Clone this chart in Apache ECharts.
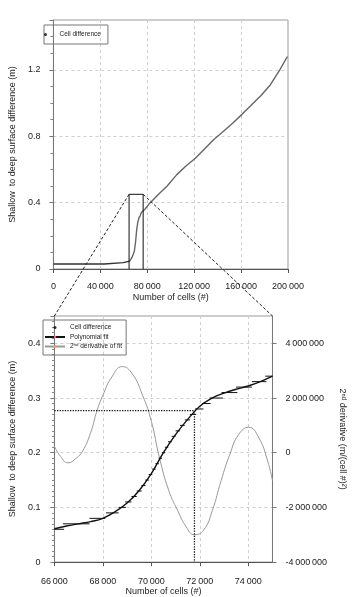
<!DOCTYPE html>
<html><head><meta charset="utf-8">
<script src="https://cdn.jsdelivr.net/npm/echarts@6/dist/echarts.min.js"></script>
<style>html,body{margin:0;padding:0;background:#fff}#c{width:355px;height:597px}</style>
</head><body><div id="c"></div>
<script>
// ---- Top chart data ----
const topStepX = [0, 43500, 43500, 59500, 59500, 65000];
const topStepY = [0.03, 0.03, 0.038, 0.038, 0.048, 0.048];
const topCurveX = [66000, 67000, 68000, 69000, 70000, 71000, 72000, 73000, 74000, 75000, 78000, 82000, 89000, 97000, 105000, 113000, 121000, 129000, 137000, 145000, 153000, 161000, 169000, 177000, 185000, 193000, 199500];
const topCurveY = [0.06, 0.07, 0.08, 0.107, 0.16, 0.236, 0.284, 0.309, 0.322, 0.34, 0.36, 0.395, 0.446, 0.50, 0.567, 0.62, 0.667, 0.725, 0.782, 0.83, 0.879, 0.933, 0.989, 1.045, 1.11, 1.20, 1.28];
const zoomRectX = [64500, 76500];
const zoomRectTop = 0.45;
const topXTicks = [0, 200000, 40000];      // min, max, interval
const topYTicks = [0, 1.5, 0.4];

// ---- Bottom chart data ----
const fitX = [66000, 66500, 67000, 67500, 68000, 68500, 69000, 69500, 70000, 70500, 71000, 71500, 72000, 72500, 73000, 73500, 74000, 74500, 75000];
const fitY = [0.061, 0.066, 0.070, 0.074, 0.080, 0.092, 0.108, 0.131, 0.162, 0.200, 0.233, 0.261, 0.285, 0.300, 0.309, 0.316, 0.322, 0.330, 0.340];
const derX = [66000, 66250, 66565, 66900, 67165, 67500, 67766, 68000, 68370, 68800, 69210, 69640, 70000, 70335, 70720, 71080, 71440, 71780, 72160, 72520, 72880, 73240, 73600, 74020, 74440, 74800, 75000];
const derY = [240000, -130000, -370000, -200000, 60000, 750000, 1560000, 2100000, 2770000, 3150000, 2890000, 2100000, 1150000, -180000, -1380000, -2100000, -2710000, -3000000, -2830000, -2110000, -1020000, -60000, 660000, 930000, 540000, -300000, -1020000];
const diffLevel = [0.06, 0.07, 0.08, 0.09, 0.10, 0.11, 0.12, 0.13, 0.14, 0.15, 0.16, 0.17, 0.18, 0.19, 0.20, 0.21, 0.22, 0.23, 0.24, 0.25, 0.26, 0.27, 0.28, 0.29, 0.30, 0.31, 0.32, 0.33, 0.34];
const diffStart = [66000, 66350, 67450, 68130, 68650, 68920, 69180, 69400, 69590, 69750, 69890, 70035, 70170, 70300, 70430, 70560, 70690, 70840, 71000, 71180, 71380, 71590, 71800, 72100, 72400, 72900, 73500, 74150, 74700];
const diffEnd   = [66400, 67450, 68100, 68650, 68950, 69180, 69400, 69600, 69760, 69900, 70040, 70180, 70310, 70440, 70570, 70700, 70840, 71000, 71180, 71380, 71600, 71850, 72150, 72450, 72950, 73550, 74150, 74750, 75000];
const markX = 71780, markY = 0.277;
const botXTicks = [66000, 75000, 2000];
const botYTicks = [0, 0.45, 0.1];
const botY2Ticks = [-4000000, 5000000, 2000000];

const FONT = "'Liberation Sans', Arial, sans-serif";
function fmt(v) {
  const s = Math.abs(v).toString().replace(/\B(?=(\d{3})+(?!\d))/g, '\u2009');
  return (v < 0 ? '-' : '') + s;
}
const lbl = {fontFamily: FONT, fontSize: 9, color: '#222'};
const nameStyle = {fontFamily: FONT, fontSize: 9, color: '#222'};
const splitDash = {show: true, lineStyle: {color: '#cfcfcf', type: [3, 3], width: 1}};

const stepTop = topStepX.map((x, i) => [x, topStepY[i]]);
const cellTop = [[topStepX[topStepX.length - 1], topStepY[topStepY.length - 1]]];
topCurveX.forEach((x, i) => cellTop.push([x, topCurveY[i]]));
const rect = [[zoomRectX[0], 0], [zoomRectX[0], zoomRectTop], [zoomRectX[1], zoomRectTop], [zoomRectX[1], 0]];
const dashes = [];
diffLevel.forEach((v, i) => { dashes.push([diffStart[i], v]); dashes.push([diffEnd[i], v]); dashes.push([diffEnd[i], '-']); });
const fit = fitX.map((x, i) => [x, fitY[i]]);
const der = derX.map((x, i) => [x, derY[i]]);
const marks = [[botXTicks[0], markY], [markX, markY], [markX, 0]];

const chart = echarts.init(document.getElementById('c'), null, {renderer: 'canvas'});
const legendText = {fontFamily: FONT, fontSize: 6.5, color: '#222'};
const CELL = 'Cell difference';
const DER = '2\u207F\u1D48 derivative of fit';
chart.setOption({
  animation: false,
  backgroundColor: '#fff',
  grid: [
    {left: 38, right: 67, top: 20, bottom: 328, show: true, borderColor: '#9a9a9a', borderWidth: 1},
    {left: 39, right: 66, top: 316, bottom: 31, show: true, borderColor: '#9a9a9a', borderWidth: 1}
  ],
  legend: [
    {left: 44, top: 25, orient: 'vertical', selectedMode: false,
     data: [{name: CELL, icon: 'circle'}],
     itemWidth: 18, itemHeight: 3, itemGap: 2, padding: [6, 7, 6, 0],
     borderColor: '#777', borderWidth: 1, textStyle: legendText},
    {left: 43, top: 320, orient: 'vertical', selectedMode: false,
     data: [{name: CELL, icon: 'circle'}, 'Polynomial fit', DER],
     itemWidth: 20, itemHeight: 3, itemGap: 2.5, padding: [4, 4, 5, 1],
     borderColor: '#777', borderWidth: 1, textStyle: legendText}
  ],
  xAxis: [
    {type: 'value', gridIndex: 0, min: topXTicks[0], max: topXTicks[1], interval: topXTicks[2],
     name: 'Number of cells (#)', nameLocation: 'middle', nameGap: 24, nameTextStyle: nameStyle,
     axisLine: {onZero: false, lineStyle: {color: '#555'}}, axisTick: {show: true, length: 4, lineStyle: {color: '#555'}},
     axisLabel: {...lbl, margin: 13, formatter: fmt}, splitLine: splitDash},
    {type: 'value', gridIndex: 1, min: botXTicks[0], max: botXTicks[1], interval: botXTicks[2],
     name: 'Number of cells (#)', nameLocation: 'middle', nameGap: 23, nameTextStyle: nameStyle,
     axisLine: {onZero: false, lineStyle: {color: '#555'}}, axisTick: {show: true, length: 4, lineStyle: {color: '#555'}},
     axisLabel: {...lbl, margin: 15, formatter: fmt, showMaxLabel: false}, splitLine: splitDash}
  ],
  yAxis: [
    {type: 'value', gridIndex: 0, min: topYTicks[0], max: topYTicks[1], interval: topYTicks[2],
     name: 'Shallow  to deep surface difference (m)', nameLocation: 'middle', nameGap: 19, nameRotate: 90, nameTextStyle: nameStyle,
     axisLine: {show: true, onZero: false, lineStyle: {color: '#777'}}, axisTick: {show: true, length: 4, lineStyle: {color: '#777'}},
     minorTick: {show: true, splitNumber: 4, length: 3, lineStyle: {color: '#888'}},
     axisLabel: {...lbl, margin: 13, showMaxLabel: false}, splitLine: splitDash},
    {type: 'value', gridIndex: 1, min: botYTicks[0], max: botYTicks[1], interval: botYTicks[2],
     name: 'Shallow  to deep surface difference (m)', nameLocation: 'middle', nameGap: 20, nameRotate: 90, nameTextStyle: nameStyle,
     axisLine: {show: true, onZero: false, lineStyle: {color: '#777'}}, axisTick: {show: true, length: 4, lineStyle: {color: '#777'}},
     minorTick: {show: true, splitNumber: 10, length: 2.5, lineStyle: {color: '#888'}},
     axisLabel: {...lbl, margin: 14, showMaxLabel: false}, splitLine: splitDash},
    {type: 'value', gridIndex: 1, position: 'right', min: botY2Ticks[0], max: botY2Ticks[1], interval: botY2Ticks[2],
     name: '2\u207F\u1D48 derivative (m/(cell #)\u00B2)', nameLocation: 'middle', nameGap: 62, nameRotate: -90, nameTextStyle: nameStyle,
     axisLine: {show: true, onZero: false, lineStyle: {color: '#777'}}, axisTick: {show: true, length: 4, lineStyle: {color: '#777'}},
     axisLabel: {...lbl, margin: 13, formatter: fmt, showMaxLabel: false}, splitLine: {show: false}}
  ],
  series: [
    // legend entry for "Cell difference" (dot marker); the marks are drawn by the line series below
    {name: CELL, type: 'scatter', xAxisIndex: 0, yAxisIndex: 0, data: [], itemStyle: {color: '#000'}},
    {name: 'stepTop', type: 'line', xAxisIndex: 0, yAxisIndex: 0, data: stepTop, symbol: 'none',
     lineStyle: {color: '#333', width: 1.3}, z: 3},
    {name: 'cellTop', type: 'line', xAxisIndex: 0, yAxisIndex: 0, data: cellTop, symbol: 'none',
     lineStyle: {color: '#666', width: 1.4}, z: 3},
    {name: 'zoomRect', type: 'line', xAxisIndex: 0, yAxisIndex: 0, data: rect, symbol: 'none',
     lineStyle: {color: '#111', width: 1}, z: 4, silent: true},
    {name: DER, type: 'line', xAxisIndex: 1, yAxisIndex: 2, data: der, symbol: 'none', smooth: 0.5,
     lineStyle: {color: '#999', width: 1}, z: 2},
    {name: 'markLines', type: 'line', xAxisIndex: 1, yAxisIndex: 1, data: marks, symbol: 'none',
     lineStyle: {color: '#111', width: 1.3, type: [1.3, 1.3]}, z: 3, silent: true},
    {name: 'cellBottom', type: 'line', xAxisIndex: 1, yAxisIndex: 1, data: dashes, symbol: 'none', connectNulls: false,
     lineStyle: {color: '#111', width: 1}, z: 4},
    {name: 'Polynomial fit', type: 'line', xAxisIndex: 1, yAxisIndex: 1, data: fit, symbol: 'none', smooth: 0.4,
     lineStyle: {color: '#111', width: 1.4}, z: 5}
  ]
});

const a = chart.convertToPixel({xAxisIndex: 0, yAxisIndex: 0}, [zoomRectX[0], zoomRectTop]);
const b = chart.convertToPixel({xAxisIndex: 0, yAxisIndex: 0}, [zoomRectX[1], zoomRectTop]);
const c = chart.convertToPixel({xAxisIndex: 1, yAxisIndex: 1}, [botXTicks[0], botYTicks[1]]);
const d = chart.convertToPixel({xAxisIndex: 1, yAxisIndex: 1}, [botXTicks[1], botYTicks[1]]);
const conn = {stroke: '#222', lineWidth: 1, lineDash: [3, 2]};
chart.setOption({graphic: [
  {type: 'line', shape: {x1: a[0], y1: a[1], x2: c[0], y2: c[1]}, style: conn, z: 10},
  {type: 'line', shape: {x1: b[0], y1: b[1], x2: d[0], y2: d[1]}, style: conn, z: 10}
]});
</script></body></html>
